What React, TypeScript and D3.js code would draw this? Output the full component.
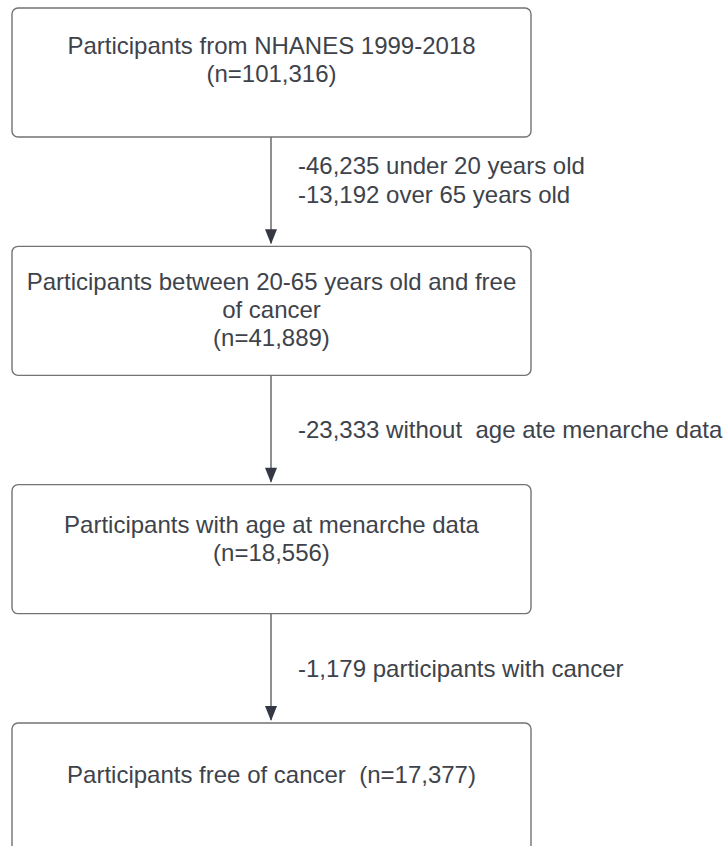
import React from "react";
import * as d3 from "d3";

const boxLines: string[][] = [
  ["Participants from NHANES 1999-2018", "(n=101,316)", ""],
  ["Participants between 20-65 years old and free", "of cancer", "(n=41,889)"],
  ["Participants with age at menarche data", "(n=18,556)"],
  ["Participants free of cancer  (n=17,377)"],
];

const exclusionLines: string[][] = [
  ["-46,235 under 20 years old", "-13,192 over 65 years old"],
  ["-23,333 without  age ate menarche data"],
  ["-1,179 participants with cancer"],
];

const W = 727;
const H = 846;
const boxLeft = 12;
const boxRight = 531;
const boxH = 129;
const lineH = 28;
const labelLineH = 29;
const fontSize = 24;
const capHalf = 8.5;
const boxShift = [1, -1, -10, -13];
const labelShift = [-12, -1, 0];
const textColor = "#3e434b";

export default function App() {
  const yStep = d3.scaleLinear().domain([0, boxLines.length - 1]).range([8, 723]);
  const cx = (boxLeft + boxRight) / 2;
  const arrowX = 271;
  const labelX = 298;

  return (
    <svg
      width={W}
      height={H}
      style={{ position: "absolute", left: 0, top: 0, background: "#fff" }}
      fontFamily="'Liberation Sans', Arial, sans-serif"
    >
      <rect x={0} y={0} width={W} height={H} fill="#fff" />
      {boxLines.map((lines, bi) => {
        const top = yStep(bi);
        const isLast = bi === boxLines.length - 1;
        const h = isLast ? 160 : boxH;
        const n = lines.length;
        return (
          <g key={bi}>
            <rect x={boxLeft} y={top} width={boxRight - boxLeft} height={h} rx={6} ry={6} fill="#fff" stroke="#737373" strokeWidth={1.4} />
            {lines.map((t, i) => (
              <text
                key={i}
                x={cx}
                y={top + 64 + boxShift[bi] + capHalf + (i - (n - 1) / 2) * lineH}
                textAnchor="middle"
                fontSize={fontSize}
                fill={textColor}
                style={{ whiteSpace: "pre" }}
              >
                {t}
              </text>
            ))}
          </g>
        );
      })}
      {exclusionLines.map((lines, ai) => {
        const y0 = yStep(ai) + boxH;
        const y1 = yStep(ai + 1);
        const mid = (y0 + y1) / 2 + labelShift[ai];
        const n = lines.length;
        return (
          <g key={ai}>
            <line x1={arrowX} y1={y0} x2={arrowX} y2={y1 - 3} stroke="#6a6a6a" strokeWidth={1.5} />
            <path d={`M${arrowX - 6},${y1 - 17} L${arrowX + 6},${y1 - 17} L${arrowX},${y1 - 2} Z`} fill="#333844" />
            {lines.map((t, i) => (
              <text
                key={i}
                x={labelX}
                y={mid + capHalf + (i - (n - 1) / 2) * labelLineH}
                fontSize={fontSize}
                fill={textColor}
                style={{ whiteSpace: "pre" }}
              >
                {t}
              </text>
            ))}
          </g>
        );
      })}
    </svg>
  );
}
